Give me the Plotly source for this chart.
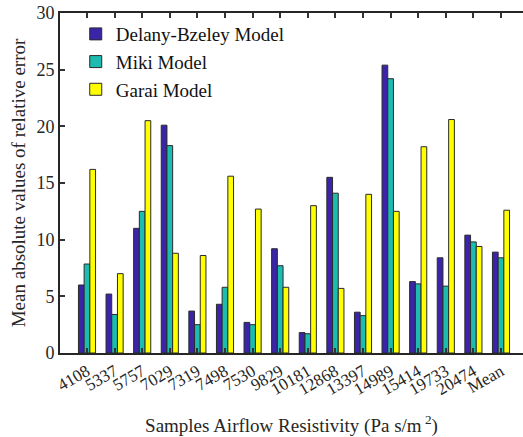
import plotly.graph_objects as go

categories = ["4108", "5337", "5757", "7029", "7319", "7498", "7530", "9829",
              "10181", "12868", "13397", "14989", "15414", "19733", "20474", "Mean"]
delany = [6.0, 5.2, 11.0, 20.1, 3.7, 4.3, 2.7, 9.2, 1.8, 15.5, 3.6, 25.4, 6.3, 8.4, 10.4, 8.9]
miki = [7.85, 3.4, 12.5, 18.3, 2.5, 5.8, 2.5, 7.7, 1.7, 14.1, 3.3, 24.2, 6.1, 5.9, 9.8, 8.4]
garai = [16.2, 7.0, 20.5, 8.8, 8.6, 15.6, 12.7, 5.8, 13.0, 5.7, 14.0, 12.5, 18.2, 20.6, 9.4, 12.6]
series_names = ["Delany-Bzeley Model", "Miki Model", "Garai Model"]
colors = ["#3C24A8", "#1CBDB0", "#FFFF00"]

FONT = "Liberation Serif"
fig = go.Figure()
for name, vals, c in zip(series_names, [delany, miki, garai], colors):
    fig.add_trace(go.Bar(x=categories, y=vals, name=name, marker_color=c,
                         marker_line=dict(color="#2a2a2a", width=1)))

# invisible trace to anchor top axis
fig.add_trace(go.Scatter(x=categories, y=[None]*len(categories), xaxis="x2",
                         showlegend=False, hoverinfo="skip"))

xr = [-0.978, 15.797]
fig.update_layout(
    width=523, height=437,
    margin=dict(l=60, r=0, t=13, b=84),
    paper_bgcolor="white", plot_bgcolor="white",
    barmode="group", bargap=0.38, bargroupgap=0,
    font=dict(family=FONT, size=17, color="#262626"),
    showlegend=True,
    legend=dict(x=0.034, y=0.994, xanchor="left", yanchor="top",
                bgcolor="rgba(255,255,255,0)", borderwidth=0,
                font=dict(family=FONT, size=19, color="#111"),
                itemwidth=30, tracegroupgap=0),
    xaxis=dict(type="category", range=xr, tickangle=-30, ticks="inside", ticklen=5,
               tickwidth=1.5, tickcolor="#333", showline=True, linecolor="#262626",
               linewidth=2, mirror=False, showgrid=False, zeroline=False,
               automargin=False,
               tickfont=dict(family=FONT, size=17),
               title=dict(text="Samples Airflow Resistivity (Pa s/m<sup> 2</sup>)",
                          font=dict(family=FONT, size=19), standoff=22)),
    xaxis2=dict(type="category", range=xr, overlaying="x", side="top", ticks="inside",
                ticklen=5, tickwidth=1.5, tickcolor="#333", showline=True,
                linecolor="#262626", linewidth=2, showticklabels=False,
                showgrid=False, zeroline=False, anchor="y", automargin=False),
    yaxis=dict(range=[0, 30], tickvals=[0, 5, 10, 15, 20, 25, 30], ticks="inside",
               ticklen=5, tickwidth=1.5, tickcolor="#333", showline=True,
               linecolor="#262626", linewidth=2, mirror=False, showgrid=False,
               zeroline=False, automargin=False, tickfont=dict(family=FONT, size=18),
               title=dict(text="Mean absolute values of relative error",
                          font=dict(family=FONT, size=19), standoff=6)),
)
fig.write_html("out.html")
